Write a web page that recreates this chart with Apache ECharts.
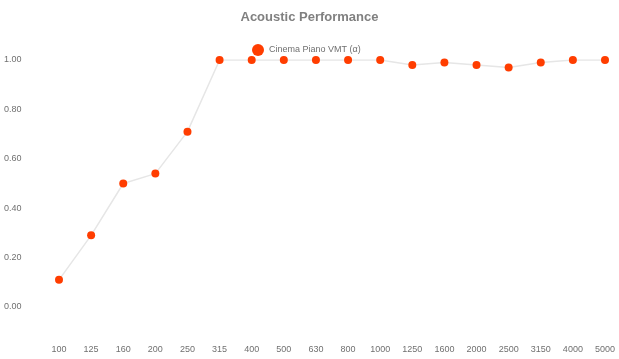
<!DOCTYPE html>
<html><head><meta charset="utf-8">
<script src="https://cdn.jsdelivr.net/npm/echarts@6/dist/echarts.min.js"></script>
<style>html,body{margin:0;padding:0;background:#fff}#c{width:619px;height:359px}</style>
</head><body><div id="c"></div>
<script>
var categories = ['100','125','160','200','250','315','400','500','630','800','1000','1250','1600','2000','2500','3150','4000','5000'];
var values = [0.11,0.29,0.50,0.54,0.71,1.00,1.00,1.00,1.00,1.00,1.00,0.98,0.99,0.98,0.97,0.99,1.00,1.00];
var seriesName = 'Cinema Piano VMT (\u03b1)';
var chart = echarts.init(document.getElementById('c'));
chart.setOption({
  animation:false,
  title:{text:'Acoustic Performance',left:'center',top:6,textStyle:{color:'#808080',fontSize:13,fontWeight:'bold',fontFamily:'Liberation Sans, Arial, sans-serif'}},
  legend:{top:39,left:247,itemWidth:12,itemHeight:12,itemGap:4,icon:'circle',textStyle:{color:'#707070',fontSize:9,fontFamily:'Liberation Sans, Arial, sans-serif'},data:[seriesName]},
  grid:{left:59,right:14,top:60,bottom:52,containLabel:false},
  xAxis:{type:'category',data:categories,boundaryGap:false,offset:30,axisLine:{show:false},axisTick:{show:false},
    axisLabel:{color:'#707070',fontSize:9,margin:8,fontFamily:'Liberation Sans, Arial, sans-serif'},splitLine:{show:false}},
  yAxis:{type:'value',min:0,max:1,interval:0.2,axisLine:{show:false},axisTick:{show:false},splitLine:{show:false},
    axisLabel:{color:'#707070',fontSize:9,align:'left',margin:55,formatter:function(v){return v.toFixed(2);},fontFamily:'Liberation Sans, Arial, sans-serif'}},
  series:[{name:seriesName,type:'line',data:values,symbol:'circle',symbolSize:8,
    lineStyle:{color:'#e6e6e6',width:1.5},itemStyle:{color:'#ff3d00'}}]
});
</script></body></html>
